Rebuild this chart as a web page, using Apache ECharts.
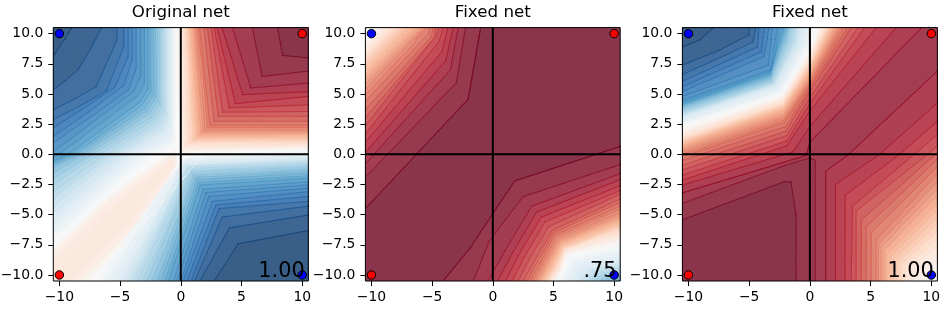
<!DOCTYPE html>
<html><head><meta charset="utf-8">
<style>html,body{margin:0;padding:0;background:#fff}#c{width:949px;height:310px}</style>
<script src="https://cdn.jsdelivr.net/npm/echarts@6/dist/echarts.min.js"></script>
</head><body><div id="c"></div>
<script>
const panelTitles = ['Original net', 'Fixed net', 'Fixed net'];
const scores = ['1.00', '.75', '1.00'];
const xTicks = [-10, -5, 0, 5, 10];
const yTicks = [-10, -7.5, -5, -2.5, 0, 2.5, 5, 7.5, 10];
const bluePoints = [[-10, 10], [10, -10]];
const redPoints = [[10, 10], [-10, -10]];
// Contour lines: [level, polyline in data coordinates]
const net1TopRight = [
[0,[[-.4,10.5],[-.1,.1],[10.5,.35]]],
[.1,[[.05,10.5],[.2,.45],[10.5,.7]]],
[.2,[[.3,10.5],[.63,.95],[10.5,.95]]],
[.3,[[.6,10.5],[1.1,1.25],[10.5,1.3]]],
[.4,[[.9,10.5],[1.5,1.6],[10.5,1.65]]],
[.5,[[1.2,10.5],[1.9,1.95],[10.5,1.95]]],
[.6,[[1.55,10.5],[2.4,2.4],[10.5,2.4]]],
[.64,[[1.9,10.5],[2.75,2.75],[10.5,2.75]]],
[.68,[[2.2,10.5],[3.1,3.15],[10.5,3.15]]],
[.72,[[2.5,10.5],[3.45,3.5],[10.5,3.55]]],
[.76,[[2.75,10.5],[4,3.85],[10.5,4.1]]],
[.8,[[3,10.5],[4.5,4.2],[10.5,4.8]]],
[.84,[[3.4,10.5],[5.1,4.95],[10.5,5.2]]],
[.88,[[4.26,10.5],[5.77,5.5],[10.5,5.9]]],
[.92,[[5.9,10.5],[6.7,6.45],[10.5,6.9]]],
[.96,[[7.97,10.5],[8.4,8.2],[10.5,8]]],
[.99,[[10.5,10.5],[10.5,10.5],[10.5,10.5]]]
];
const net1TopLeft = [
[0,[[-.45,10.5],[-.45,1],[-.6,.4],[-2,0],[-10.5,-7.5]]],
[-.1,[[-.7,10.5],[-.7,1.9],[-.95,1.2],[-3.4,0],[-10.5,-6.1]]],
[-.2,[[-1,10.5],[-1,2.7],[-1.4,1.9],[-4.5,0],[-10.5,-5]]],
[-.3,[[-1.35,10.5],[-1.35,3.4],[-1.9,2.5],[-5.8,0],[-10.5,-3.4]]],
[-.4,[[-1.75,10.5],[-1.75,4.1],[-2.4,3.1],[-7.2,0],[-10.5,-2]]],
[-.5,[[-2.15,10.5],[-2.1,4.9],[-2.9,3.7],[-8.4,0],[-10.5,-.9]]],
[-.6,[[-2.7,10.5],[-2.7,5.4],[-3.4,4.3],[-9.3,0],[-10.5,-.55]]],
[-.64,[[-3,10.5],[-3,5.9],[-3.6,4.8],[-9.9,.1],[-10.5,-.3]]],
[-.68,[[-3.3,10.5],[-3.3,6.45],[-3.9,5.2],[-7.2,2.7],[-10.5,.2]]],
[-.72,[[-3.68,10.5],[-3.68,7.1],[-4.3,5.35],[-7.4,3.1],[-10.5,.96]]],
[-.76,[[-4,10.5],[-4,7.8],[-4.7,5.7],[-7.6,3.5],[-10.5,1.5]]],
[-.8,[[-4.34,10.5],[-4.34,8.1],[-5.4,5.6],[-8,3.8],[-10.5,2.2]]],
[-.84,[[-4.7,10.5],[-4.7,8.9],[-6.1,5.3],[-8.3,4],[-10.5,2.9]]],
[-.88,[[-5.25,10.5],[-5.25,9.5],[-6.95,5.6],[-8.7,4.6],[-10.5,3.7]]],
[-.92,[[-6.5,10.5],[-7.4,8.8],[-8.46,7],[-9.5,6.1],[-10.5,5.36]]],
[-.96,[[-8.96,10.5],[-9.2,10.1],[-9.5,9.6],[-10,8.9],[-10.5,8.1]]],
[-.98,[[-10.5,10.5],[-10.5,10.5],[-10.5,10.5],[-10.5,10.5],[-10.5,10.5]]]
];
const net1BottomRight = [
[0,[[10.5,.35],[2,.1],[-7.2,-10.5]]],
[-.1,[[10.5,0],[.2,-.5],[-5.8,-10.5]]],
[-.2,[[10.5,-.37],[.4,-.85],[-4.7,-10.5]]],
[-.3,[[10.5,-.7],[.6,-1.1],[-3.8,-10.5]]],
[-.4,[[10.5,-1.05],[.9,-1.5],[-2.8,-10.5]]],
[-.5,[[10.5,-1.45],[1.24,-2],[-1.8,-10.5]]],
[-.6,[[10.5,-2],[1.6,-2.55],[-1,-10.5]]],
[-.64,[[10.5,-2.28],[1.84,-2.9],[-.6,-10.5]]],
[-.68,[[10.5,-2.55],[2.06,-3.16],[-.3,-10.5]]],
[-.72,[[10.5,-2.8],[2.3,-3.5],[0,-10.5]]],
[-.76,[[10.5,-3.1],[2.6,-3.9],[.2,-10.5]]],
[-.8,[[10.5,-3.5],[2.9,-4.2],[.5,-10.5]]],
[-.84,[[10.5,-3.9],[3.15,-4.5],[.85,-10.5]]],
[-.88,[[10.5,-4.3],[3.4,-5.2],[1.15,-10.5]]],
[-.92,[[10.5,-5.03],[4,-6.1],[1.57,-10.5]]],
[-.96,[[10.5,-6.3],[4.7,-7.4],[2.7,-10.5]]],
[-.98,[[10.5,-10.5],[10.5,-10.5],[10.5,-10.5]]]
];
const net1Ridge = [
[0,[[-10.5,-7.5],[-6,-3.4],[-.5,.6],[-.2,-.6],[-3.74,-6.67],[-7.2,-10.5]]],
[.08,[[-10.5,-8.4],[-6,-4],[-.6,0],[-.4,-.9],[-4,-6.2],[-8.4,-10.5]]],
[.12,[[-10.5,-9.1],[-6,-4.7],[-.8,-.6],[-.7,-1],[-4.3,-5.6],[-9.1,-10.5]]],
[.15,[[-10.5,-10.5],[-7,-7],[-3.6,-3.7],[-3.6,-3.7],[-7,-7],[-10.5,-10.5]]]
];
const net2TopLeft = [
[.96,[[-1,10.5],[-2.03,4.56],[-10.5,-4.5]]],
[.92,[[-2.25,10.5],[-3,5.93],[-10.5,-1.9]]],
[.88,[[-2.85,10.5],[-3.5,7],[-10.5,-.8]]],
[.84,[[-3.26,10.5],[-3.87,7.77],[-10.5,.15]]],
[.8,[[-3.7,10.5],[-4.2,8.5],[-10.5,1]]],
[.76,[[-4.1,10.5],[-4.4,9.4],[-10.5,1.7]]],
[.72,[[-4.4,10.5],[-4.6,9.9],[-10.5,2.36]]],
[.68,[[-4.7,10.5],[-4.8,9.7],[-10.5,3.05]]],
[.64,[[-4.9,10.5],[-5.1,9.7],[-10.5,3.7]]],
[.6,[[-5.2,10.5],[-5.3,10],[-10.5,4.4]]],
[.5,[[-5.7,10.5],[-8,8.2],[-10.5,5.66]]],
[.4,[[-6.55,10.5],[-8.5,8.5],[-10.5,6.6]]],
[.3,[[-7.4,10.5],[-9,9],[-10.5,7.45]]],
[.2,[[-8.2,10.5],[-9.4,9.3],[-10.5,8.1]]],
[.1,[[-9,10.5],[-9.8,9.6],[-10.5,8.8]]],
[0,[[-9.7,10.5],[-10.1,10],[-10.5,9.5]]],
[-.03,[[-10.5,10.5],[-10.5,10.5],[-10.5,10.5]]]
];
const net2BottomRight = [
[.96,[[10.5,.65],[1.8,-2.2],[-1.9,-7.8],[-4.1,-10.5]]],
[.92,[[10.5,-.85],[2.5,-3.5],[-.3,-7.2],[-1.6,-10.5]]],
[.88,[[10.5,-1.6],[3.2,-4.3],[1,-8],[-.4,-10.5]]],
[.84,[[10.5,-2.1],[3.6,-4.8],[1.6,-8.2],[.4,-10.5]]],
[.8,[[10.5,-2.6],[4,-5.2],[2.1,-8.4],[1.05,-10.5]]],
[.76,[[10.5,-3],[4.3,-5.6],[2.6,-8.5],[1.6,-10.5]]],
[.72,[[10.5,-3.3],[4.6,-6],[3,-8.7],[2.1,-10.5]]],
[.68,[[10.5,-3.7],[4.9,-6.3],[3.4,-8.9],[2.5,-10.5]]],
[.6,[[10.5,-4.3],[5.1,-6.7],[3.9,-9],[3.1,-10.5]]],
[.5,[[10.5,-5],[5.4,-7.1],[4.3,-9.2],[3.6,-10.5]]],
[.3,[[10.5,-5.9],[5.8,-7.7],[5,-9.4],[4.3,-10.5]]],
[.1,[[10.5,-6.9],[6,-8.1],[5.5,-9.6],[4.9,-10.5]]],
[0,[[10.5,-7.5],[6.2,-8.4],[5.7,-9.7],[5.2,-10.5]]],
[-.2,[[10.5,-9],[8,-9.5],[7.3,-10.1],[7,-10.5]]],
[-.4,[[10.5,-10],[9.5,-10.1],[9,-10.3],[8.8,-10.5]]],
[-.55,[[10.5,-10.5],[10.5,-10.5],[10.5,-10.5],[10.5,-10.5]]]
];
const net3UpperLeft = [
[.88,[[-10.5,-3.2],[-.3,-.1],[0,1],[9.2,10.5]]],
[.84,[[-10.5,-2.55],[-1.4,.2],[0,2.3],[7.1,10.5]]],
[.8,[[-10.5,-2.14],[-1.9,.7],[0,3.6],[5.47,10.5]]],
[.76,[[-10.5,-1.73],[-1.9,1.1],[0,4.2],[4.5,10.5]]],
[.72,[[-10.5,-1.3],[-1.9,1.55],[0,4.7],[3.95,10.5]]],
[.68,[[-10.5,-.9],[-2,1.9],[0,5.2],[3.4,10.5]]],
[.64,[[-10.5,-.5],[-2,2.3],[0,5.5],[3.1,10.5]]],
[.6,[[-10.5,-.2],[-2.1,2.65],[0,5.7],[2.8,10.5]]],
[.5,[[-10.5,.3],[-2.1,3.15],[0,6.2],[2.35,10.5]]],
[.4,[[-10.5,.7],[-2.15,3.6],[0,6.7],[1.95,10.5]]],
[.3,[[-10.5,1],[-2.2,3.95],[0,7.2],[1.6,10.5]]],
[.2,[[-10.5,1.3],[-2.2,4.25],[0,7.7],[1.3,10.5]]],
[.1,[[-10.5,1.7],[-2.25,4.6],[0,8.2],[1,10.5]]],
[0,[[-10.5,2.3],[-2.25,4.95],[0,8.65],[.7,10.5]]],
[-.1,[[-10.5,2.7],[-2.6,5.3],[-.4,9.2],[0,10.5]]],
[-.2,[[-10.5,3.15],[-2.9,5.7],[-1,9],[-.75,10.5]]],
[-.3,[[-10.5,3.4],[-3.05,5.9],[-1.4,9.2],[-1.2,10.5]]],
[-.4,[[-10.5,3.7],[-3.2,6.1],[-1.85,9.3],[-1.6,10.5]]],
[-.5,[[-10.5,4],[-3.25,6.4],[-2.2,9.4],[-1.9,10.5]]],
[-.6,[[-10.5,4.2],[-3.3,6.7],[-2.5,9.5],[-2.2,10.5]]],
[-.68,[[-10.5,4.5],[-3.2,7],[-2.85,9.5],[-2.66,10.5]]],
[-.72,[[-10.5,4.8],[-3.4,7.4],[-3.2,9.5],[-3.1,10.5]]],
[-.76,[[-10.5,5.2],[-3.8,8.1],[-3.5,9.6],[-3.4,10.5]]],
[-.8,[[-10.5,5.6],[-4,8.5],[-3.85,9.7],[-3.76,10.5]]],
[-.84,[[-10.5,6.05],[-4.3,8.9],[-4.25,9.8],[-4.2,10.5]]],
[-.88,[[-10.5,6.6],[-7,8.2],[-4.7,9.3],[-4.45,10.5]]],
[-.92,[[-10.5,7.4],[-7.5,8.6],[-5,9.9],[-5,10.5]]],
[-.96,[[-10.5,8.9],[-9,9.5],[-8.5,10],[-7.9,10.5]]],
[-.99,[[-10.5,10.5],[-10.5,10.5],[-10.5,10.5],[-10.5,10.5]]]
];
const net3LowerRight = [
[.88,[[10.5,6.9],[3.2,0],[1.3,-1.4],[1.3,-10.5]]],
[.84,[[10.5,4.26],[5.74,0],[2.1,-2.5],[2.1,-10.5]]],
[.8,[[10.5,2.75],[7.4,0],[2.9,-3.4],[2.9,-10.5]]],
[.76,[[10.5,1.65],[8.6,0],[3.5,-4.3],[3.4,-10.5]]],
[.72,[[10.5,.7],[9.7,0],[3.8,-4.7],[3.8,-10.5]]],
[.68,[[10.5,.15],[7.4,-2.65],[4.23,-5.44],[4.23,-10.5]]],
[.64,[[10.5,-.4],[7.6,-3.2],[4.64,-6],[4.64,-10.5]]],
[.6,[[10.5,-1],[7.8,-3.75],[5.05,-6.5],[5.05,-10.5]]],
[.56,[[10.5,-1.6],[8,-4.35],[5.45,-7.1],[5.45,-10.5]]],
[.5,[[10.5,-2.6],[8.1,-5.1],[5.75,-7.6],[5.75,-10.5]]],
[.4,[[10.5,-4],[8.4,-6.15],[6.3,-8.3],[6.3,-10.5]]],
[.3,[[10.5,-5.5],[8.75,-7.2],[7,-8.9],[7,-10.5]]],
[.2,[[10.5,-7],[9.15,-8.15],[7.8,-9.3],[7.8,-10.5]]],
[.1,[[10.5,-8.6],[9.55,-9.2],[8.6,-9.8],[8.6,-10.5]]],
[0,[[10.5,-10.3],[10.4,-10.35],[10.3,-10.4],[10.3,-10.5]]],
[-.02,[[10.5,-10.5],[10.5,-10.5],[10.5,-10.5],[10.5,-10.5]]]
];
const net3Plateau = [
[.92,[[-10.5,-4.07],[-2,-.9],[0,-.3],[.44,-.5],[.44,-10.5]]],
[.96,[[-10.5,-5.44],[-2.1,-2.28],[-1.57,-2.28],[-1.15,-5],[-1.15,-10.5]]],
[.99,[[-10.5,-10.5],[-10.5,-10.5],[-10.5,-10.5],[-10.5,-10.5],[-10.5,-10.5]]]
];
const panelLobes = [
  [net1Ridge, net1TopRight, net1TopLeft, net1BottomRight],
  [net2TopLeft, net2BottomRight],
  [net3UpperLeft, net3LowerRight, net3Plateau]
];
const panelBaseLevels = [0, .98, .9];
const panelBoxes = [[53.3, 308.3], [365.4, 620.2], [682.4, 937.4]];
const boxTop = 27.6, boxBottom = 281;
const STEP = 0.04, EPS = 1e-4;

const stops = [[5,48,97],[33,102,172],[67,147,195],[146,197,222],[209,229,240],[247,247,247],[253,219,199],[244,165,130],[214,96,77],[178,24,43],[103,0,31]];
function rgb(v){
  const t = Math.max(0, Math.min(10, (v + 1) * 5)), i = Math.min(9, Math.floor(t)), f = t - i;
  return stops[i].map((s, k) => s + (stops[i + 1][k] - s) * f);
}
function over(c, a){ return 'rgb(' + c.map(x => Math.round(x * a + 255 * (1 - a))).join(',') + ')'; }
function clip(poly, level, keepAbove){
  const out = [];
  for (let i = 0; i < poly.length; i++){
    const p = poly[i], q = poly[(i + 1) % poly.length];
    const pin = keepAbove ? p[2] >= level : p[2] <= level;
    const qin = keepAbove ? q[2] >= level : q[2] <= level;
    if (pin) out.push(p);
    if (pin !== qin){
      const t = (level - p[2]) / (q[2] - p[2]);
      out.push([p[0] + (q[0] - p[0]) * t, p[1] + (q[1] - p[1]) * t, level]);
    }
  }
  return out;
}
function area2(a, b, c){ return (b[0]-a[0])*(c[1]-a[1]) - (b[1]-a[1])*(c[0]-a[0]); }
function quadTriangles(a, b, c, d){
  if (area2(a,b,c) * area2(a,c,d) >= 0) return [[a,b,c],[a,c,d]];
  return [[a,b,d],[b,c,d]];
}
function isMultiple(v){ const r = v / STEP; return Math.abs(r - Math.round(r)) < 1e-6; }
function stripRenderer(lobes, lines){
  return function(params, api){
    const lobe = lobes[api.value(0)], s = api.value(1), g = api.value(2), children = [];
    const toPx = p => api.coord([p[0], p[1]]);
    const [v0, pts0] = lobe[s], [v1, pts1] = lobe[s + 1];
    const mk = (p, v) => [p[0], p[1], v];
    const a = mk(pts0[g], v0), b = mk(pts0[g+1], v0), c = mk(pts1[g+1], v1), d = mk(pts1[g], v1);
    const lo = Math.min(v0, v1), hi = Math.max(v0, v1);
    if (lines && s === 0 && isMultiple(v0)) children.push(lineEl(toPx(a), toPx(b), v0));
    if (!lines){
      const col = over(rgb((v0 + v1) / 2), 0.8);
      children.push({type:'polygon', shape:{points:[a,b,c,d].map(toPx)}, style:{fill:col}});
    }
    for (const tri of quadTriangles(a, b, c, d)){
      const k0 = Math.floor((lo + 1) / STEP) - 1, k1 = Math.ceil((hi + 1) / STEP) + 1;
      for (let k = k0; k <= k1; k++){
        const base = -1 + k * STEP - EPS, top = base + STEP;
        if (lines){
          if (base <= lo || base >= hi) continue;
          const pts = [];
          for (let n = 0; n < 3; n++){
            const p = tri[n], q = tri[(n + 1) % 3];
            if ((p[2] < base) !== (q[2] < base)){
              const t = (base - p[2]) / (q[2] - p[2]);
              pts.push(toPx([p[0] + (q[0] - p[0]) * t, p[1] + (q[1] - p[1]) * t]));
            }
          }
          if (pts.length === 2) children.push(lineEl(pts[0], pts[1], base));
        } else {
          if (top < lo || base > hi) continue;
          const poly = clip(clip(tri, base, true), top, false);
          if (poly.length < 3) continue;
          const col = over(rgb(Math.min(base + STEP / 2, 1)), 0.8);
          children.push({type:'polygon', shape:{points:poly.map(toPx)}, style:{fill:col, stroke:col, lineWidth:0.6}});
        }
      }
    }
    return {type:'group', children};
  };
}
function lineEl(p, q, v){
  return {type:'line', shape:{x1:p[0],y1:p[1],x2:q[0],y2:q[1]}, style:{stroke:over(rgb(v), 0.98), lineWidth:1, opacity:0.85, lineCap:'round'}};
}
function stripCells(lobes){
  const out = [];
  lobes.forEach((lobe, l) => {
    for (let s = 0; s < lobe.length - 1; s++)
      for (let g = 0; g < lobe[s][1].length - 1; g++) out.push([l, s, g]);
  });
  return out;
}

const grid = [], xAxis = [], yAxis = [], title = [], series = [];
const axisText = {color:'#000', fontFamily:'DejaVu Sans', fontSize:13.9};
panelLobes.forEach((lobes, n) => {
  const [l, r] = panelBoxes[n];
  grid.push({left:l, top:boxTop, width:r - l, height:boxBottom - boxTop, show:true, borderWidth:0, outerBoundsMode:'none',
    backgroundColor:over(rgb(panelBaseLevels[n]), 0.8)});
  title.push({text:panelTitles[n], left:(l + r) / 2, top:4, padding:0, textAlign:'center',
    textStyle:{color:'#000', fontFamily:'DejaVu Sans', fontSize:16.7, fontWeight:'normal'}});
  xAxis.push({type:'value', gridIndex:n, min:-10.5, max:10.5, splitLine:{show:false}, axisLine:{show:false, onZero:false},
    axisTick:{show:true, length:5, customValues:xTicks, lineStyle:{color:'#000', width:1}},
    axisLabel:{...axisText, margin:9, customValues:xTicks, formatter:v => String(v).replace('-', '\u2212')}});
  yAxis.push({type:'value', gridIndex:n, min:-10.5, max:10.5, splitLine:{show:false}, axisLine:{show:false, onZero:false},
    axisTick:{show:true, length:5, customValues:yTicks, lineStyle:{color:'#000', width:1}},
    axisLabel:{...axisText, margin:10, customValues:yTicks, formatter:v => v.toFixed(1).replace('-', '\u2212')}});
  const base = {xAxisIndex:n, yAxisIndex:n, silent:true, animation:false};
  const cells = stripCells(lobes);
  series.push({...base, type:'custom', z:1, clip:true, progressive:0, renderItem:stripRenderer(lobes, false), data:cells});
  series.push({...base, type:'custom', z:2, clip:true, progressive:0, renderItem:stripRenderer(lobes, true), data:cells});
  series.push({...base, type:'line', z:3, symbol:'none', lineStyle:{color:'#000', width:2}, data:[[0,-10.5],[0,10.5]]});
  series.push({...base, type:'line', z:3, symbol:'none', lineStyle:{color:'#000', width:2}, data:[[-10.5,0],[10.5,0]]});
  series.push({...base, type:'scatter', z:4, symbolSize:8.5, itemStyle:{color:'#0000ff', borderColor:'#000', borderWidth:1, opacity:1}, data:bluePoints});
  series.push({...base, type:'scatter', z:4, symbolSize:8.5, itemStyle:{color:'#ff0000', borderColor:'#000', borderWidth:1, opacity:1}, data:redPoints});
  series.push({...base, type:'custom', z:5, clip:false, data:[[10.2,-10.2]], renderItem(params, api){
    const p = api.coord([api.value(0), api.value(1)]);
    const tl = api.coord([-10.5, 10.5]), br = api.coord([10.5, -10.5]);
    return {type:'group', children:[
      {type:'text', style:{x:p[0], y:p[1] + 5, text:scores[n], textAlign:'right', textVerticalAlign:'bottom', fill:'#000', fontFamily:'DejaVu Sans', fontSize:20.8}},
      {type:'rect', shape:{x:tl[0], y:tl[1], width:br[0]-tl[0], height:br[1]-tl[1]}, style:{fill:'none', stroke:'#000', lineWidth:1}}
    ]};
  }});
});
const chart = echarts.init(document.getElementById('c'), null, {renderer:'canvas'});
chart.setOption({animation:false, backgroundColor:'#fff', grid, xAxis, yAxis, title, series});
</script></body></html>
